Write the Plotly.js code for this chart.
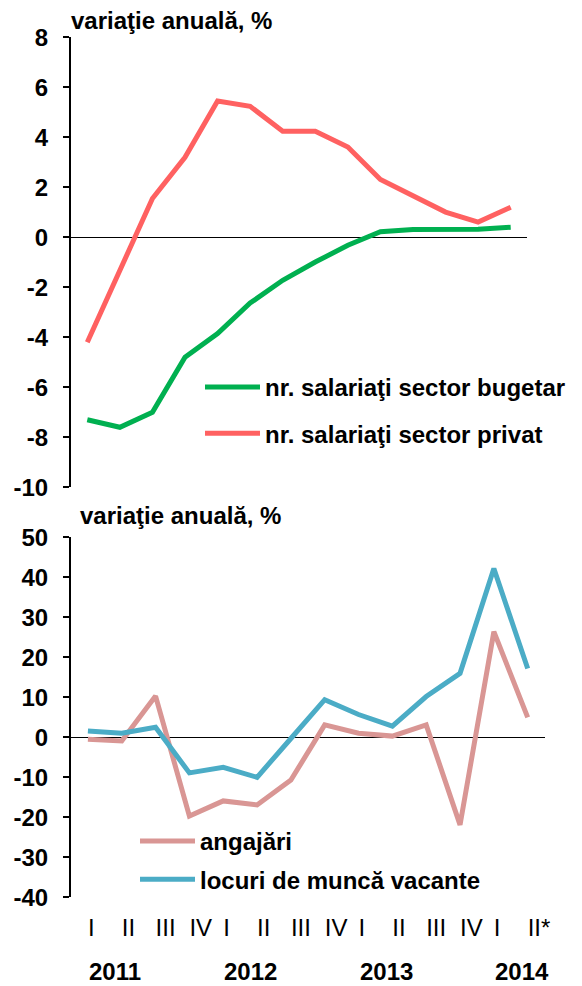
<!DOCTYPE html>
<html>
<head>
<meta charset="utf-8">
<script src="https://cdn.plot.ly/plotly-3.0.1.min.js"></script>
<style>
  html, body { margin: 0; padding: 0; background: #fff; }
  #chart { width: 582px; height: 986px; }
</style>
</head>
<body>
<div id="chart"></div>
<script>
// ---- data ----
const quarters = ['2011-I','2011-II','2011-III','2011-IV','2012-I','2012-II','2012-III','2012-IV',
                  '2013-I','2013-II','2013-III','2013-IV','2014-I','2014-II'];
const quarterLabels = ['I','II','III','IV','I','II','III','IV','I','II','III','IV','I','II*'];
const years = ['2011','2012','2013','2014'];
const yearStarts = ['2011-I','2012-I','2013-I','2014-I'];

// top panel: annual change in number of employees, %
const budgetSector  = [-7.3, -7.6, -7.0, -4.8, -3.85, -2.63, -1.72, -0.99, -0.32, 0.22, 0.31, 0.32, 0.32, 0.4];
const privateSector = [-4.2, -1.3, 1.55, 3.2, 5.45, 5.24, 4.24, 4.24, 3.61, 2.31, 1.64, 1.01, 0.61, 1.2];
const topTicks = [-10, -8, -6, -4, -2, 0, 2, 4, 6, 8];
const topTickLabels = ['-10', '-8', '-6', '-4', '-2', '0', '2', '4', '6', '8'];

// bottom panel: annual change, %
const hires     = [-0.5, -0.9, 10.3, -19.7, -15.9, -16.9, -10.7, 3.1, 1.0, 0.3, 3.1, -21.9, 26.4, 5.0];
const vacancies = [1.6, 1.0, 2.5, -8.9, -7.5, -10.0, -0.3, 9.4, 5.7, 2.8, 10.2, 16.0, 42.2, 17.2];
const bottomTicks = [-40, -30, -20, -10, 0, 10, 20, 30, 40, 50];
const bottomTickLabels = ['-40', '-30', '-20', '-10', '0', '10', '20', '30', '40', '50'];

const names = {
  budget: 'nr. salariaţi sector bugetar',
  priv: 'nr. salariaţi sector privat',
  hires: 'angajări',
  vac: 'locuri de muncă vacante'
};
const yTitle = 'variaţie anuală, %';

// ---- styling ----
const FONT = 'Liberation Sans, Arial, sans-serif';
const W = 582, H = 986;
const px = v => v / W;
const py = v => 1 - v / H;

const traces = [
  {x: quarters, y: budgetSector, name: names.budget, type: 'scatter', mode: 'lines',
   line: {color: '#00B050', width: 5}, xaxis: 'x', yaxis: 'y', legend: 'legend', legendgroup: 'a'},
  {x: quarters, y: privateSector, name: names.priv, type: 'scatter', mode: 'lines',
   line: {color: '#FF6161', width: 5}, xaxis: 'x', yaxis: 'y', legend: 'legend', legendgroup: 'b'},
  {x: quarters, y: hires, name: names.hires, type: 'scatter', mode: 'lines',
   line: {color: '#D99694', width: 5}, xaxis: 'x2', yaxis: 'y2', legend: 'legend2', legendgroup: 'c'},
  {x: quarters, y: vacancies, name: names.vac, type: 'scatter', mode: 'lines',
   line: {color: '#4BACC6', width: 5}, xaxis: 'x2', yaxis: 'y2', legend: 'legend2', legendgroup: 'd'}
];

const yCommon = {
  showline: true, linecolor: '#000', linewidth: 2,
  ticks: 'outside', ticklen: 6, tickwidth: 2, tickcolor: '#000',
  showgrid: false, zeroline: true, zerolinecolor: '#000', zerolinewidth: 1.5,
  tickfont: {family: FONT, size: 24, color: '#000', weight: 'bold'},
  ticklabelstandoff: 10
};

const boldFont = {family: FONT, size: 24, color: '#000', weight: 'bold'};

const layout = {
  width: W, height: H, autosize: false,
  margin: {l: 0, r: 0, t: 0, b: 0},
  paper_bgcolor: '#fff', plot_bgcolor: '#fff',
  font: {family: FONT, color: '#000'},
  xaxis: {type: 'category', domain: [px(71), px(527)], anchor: 'y', range: [-0.5, 13.5],
          showline: false, showgrid: false, zeroline: false, ticks: '', showticklabels: false},
  yaxis: Object.assign({}, yCommon, {domain: [py(487.3), py(37.3)], anchor: 'x',
          range: [-10, 8], tickmode: 'array', tickvals: topTicks, ticktext: topTickLabels}),
  xaxis2: {type: 'category', domain: [px(71), px(544.6)], anchor: 'y2', range: [-0.5, 13.5],
          showline: false, showgrid: false, zeroline: false, ticks: '',
          tickvals: quarters, ticktext: quarterLabels,
          ticklabelposition: 'outside right', ticklabelstandoff: 14,
          tickfont: {family: FONT, size: 24, color: '#000'}},
  yaxis2: Object.assign({}, yCommon, {domain: [py(897.3), py(537.3)], anchor: 'x2',
          range: [-40, 50], tickmode: 'array', tickvals: bottomTicks, ticktext: bottomTickLabels}),
  legend: {x: px(200), y: py(365), xanchor: 'left', yanchor: 'top', bgcolor: 'rgba(0,0,0,0)',
           font: boldFont, itemwidth: 55, tracegroupgap: 12, traceorder: 'grouped'},
  legend2: {x: px(135), y: py(819), xanchor: 'left', yanchor: 'top', bgcolor: 'rgba(0,0,0,0)',
           font: boldFont, itemwidth: 55, tracegroupgap: 4, traceorder: 'grouped'},
  annotations: [
    {xref: 'paper', yref: 'paper', x: px(69), y: py(21), xanchor: 'left', yanchor: 'middle',
     text: yTitle, showarrow: false, font: boldFont},
    {xref: 'paper', yref: 'paper', x: px(78), y: py(515), xanchor: 'left', yanchor: 'middle',
     text: yTitle, showarrow: false, font: boldFont}
  ].concat(years.map((yr, i) => ({
     xref: 'x2', yref: 'paper', x: yearStarts[i], y: 0, xanchor: 'left', yanchor: 'bottom',
     borderpad: 0, text: yr, showarrow: false, font: boldFont
  }))),
  showlegend: true
};

Plotly.newPlot('chart', traces, layout, {displayModeBar: false, staticPlot: true});
</script>
</body>
</html>
